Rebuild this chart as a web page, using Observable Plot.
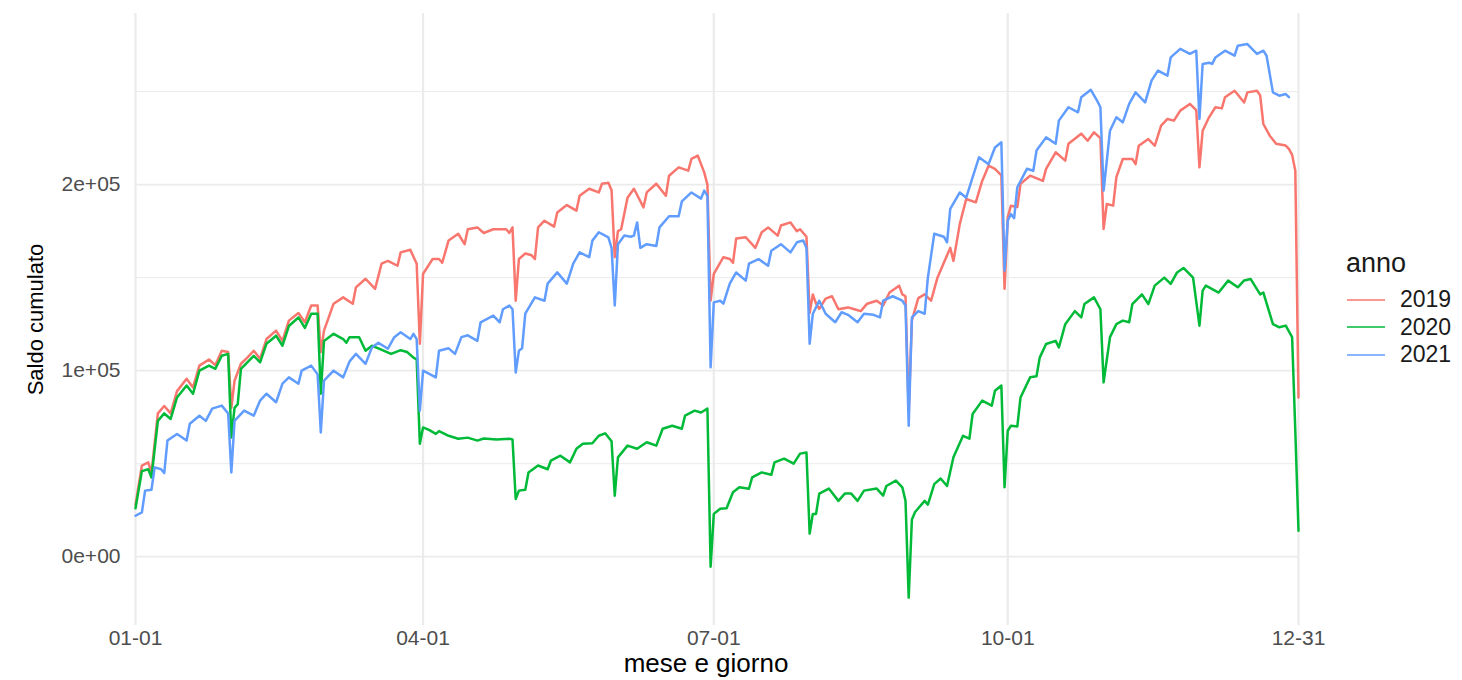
<!DOCTYPE html>
<html>
<head>
<meta charset="utf-8">
<script src="https://cdn.jsdelivr.net/npm/d3@7"></script>
<script src="https://cdn.jsdelivr.net/npm/@observablehq/plot@0.6"></script>
<style>
  html, body { margin: 0; padding: 0; background: #fff; }
  #wrap { position: relative; width: 1462px; height: 680px; overflow: hidden; font-family: "Liberation Sans", Arial, sans-serif; }
  #legend { position: absolute; left: 1346px; top: 248px; color: #1a1a1a; }
  #legend .title { font-size: 27px; height: 30px; line-height: 30px; margin-bottom: 8px; }
  #legend .row { display: flex; align-items: center; height: 27.5px; }
  #legend .row svg { margin-right: 14px; }
  #legend .row span { font-size: 23px; line-height: 27.5px; }
</style>
</head>
<body>
<div id="wrap"><div id="chart"></div><div id="legend"></div></div>
<script>
// ---- data ----
const anni = ["2019", "2020", "2021"];
const colori = ["#F8766D", "#00BA38", "#619CFF"];
const legendaTitolo = "anno";
const titoloX = "mese e giorno";
const titoloY = "Saldo cumulato";
const tickX = ["01-01", "04-01", "07-01", "10-01", "12-31"];
const tickYValori = [0, 100000, 200000];
const tickYEtichette = ["0e+00", "1e+05", "2e+05"];
const gridYMinori = [50000, 150000, 250000];

const giorni2019 = ["01-01","01-03","01-05","01-06","01-08","01-10","01-12","01-14","01-17","01-19","01-21","01-24","01-26","01-28","01-30","01-31",
"02-01","02-03","02-05","02-07","02-09","02-11","02-14","02-16","02-18","02-21","02-23","02-25","02-27","02-28",
"03-01","03-04","03-07","03-10","03-11","03-14","03-17","03-19","03-21","03-24","03-25","03-28","03-30","03-31",
"04-01","04-04","04-06","04-07","04-09","04-12","04-14","04-15","04-18","04-20","04-23","04-25","04-27","04-28","04-29","04-30",
"05-01","05-03","05-05","05-06","05-07","05-09","05-12","05-13","05-16","05-19","05-20","05-23","05-26","05-27","05-29","05-30","05-31",
"06-01","06-02","06-04","06-06","06-09","06-10","06-13","06-16","06-17","06-20","06-23","06-24","06-26","06-27","06-28","06-29","06-30",
"07-01","07-04","07-06","07-07","07-08","07-11","07-14","07-16","07-18","07-21","07-22","07-25","07-27","07-28","07-29","07-30","07-31",
"08-01","08-02","08-03","08-05","08-07","08-09","08-12","08-14","08-16","08-18","08-21","08-23","08-25","08-28","08-29","08-30","08-31",
"09-01","09-03","09-05","09-07","09-09","09-13","09-14","09-16","09-18","09-21","09-23","09-25","09-27","09-29","09-30",
"10-01","10-02","10-04","10-05","10-08","10-12","10-13","10-16","10-19","10-20","10-24","10-26","10-28","10-30","10-31",
"11-01","11-03","11-04","11-06","11-09","11-10","11-11","11-14","11-16","11-18","11-20","11-22","11-24","11-27","11-29","11-30",
"12-01","12-03","12-05","12-07","12-08","12-11","12-14","12-15","12-18","12-19","12-20","12-22","12-24","12-27","12-28","12-29","12-30","12-31"];
const saldo2019 = [28000,49000,50700,45000,77000,81000,77000,89000,95600,91000,102700,106000,103000,110700,110000,80000,
94600,103700,107000,110700,106400,117000,121500,116000,126900,131000,126000,135000,135000,110000,
121500,136000,139400,136000,144800,149400,144000,157500,159000,156400,163600,165000,157500,114500,
152000,160000,160000,158000,170000,173600,168000,176000,177000,174000,176000,176000,176000,174000,177000,137600,
160000,163000,162000,160000,177000,180600,177400,185000,189000,186000,194000,197800,195800,200500,201000,197000,161000,
175000,176000,193000,197800,187800,195800,200500,194000,204800,209300,207500,213800,215600,211000,206600,200000,137600,
152000,161000,160000,158000,171000,171700,166000,174400,177000,172600,178000,179700,175000,176000,174000,172000,131000,
141000,136000,133300,138700,140000,133000,134000,133000,132000,136000,137600,135000,142000,145700,141000,140000,78000,
127000,139000,141000,137600,150000,166000,159000,178900,192300,190500,202000,210200,208500,205000,144000,
182400,188700,188000,200400,204800,202000,208500,217400,212900,222000,227400,223600,228100,225000,176200,
189600,188700,204000,213800,213800,211000,220900,224500,220900,231700,235300,234400,239800,243400,240000,209300,
229000,236200,241600,241000,247000,250500,244200,249600,250500,248000,232600,226300,222000,221000,219200,216000,207500,85600];

const giorni2020 = ["01-01","01-03","01-05","01-06","01-08","01-10","01-12","01-14","01-17","01-19","01-21","01-24","01-26","01-28","01-30","01-31",
"02-01","02-02","02-03","02-05","02-07","02-09","02-11","02-14","02-16","02-18","02-21","02-23","02-25","02-27","02-28",
"03-01","03-04","03-07","03-08","03-09","03-12","03-14","03-16","03-18","03-22","03-25","03-27","03-29","03-30","03-31",
"04-01","04-03","04-05","04-06","04-09","04-12","04-15","04-18","04-20","04-24","04-28","04-29","04-30",
"05-01","05-03","05-04","05-07","05-10","05-11","05-14","05-17","05-19","05-21","05-24","05-26","05-28","05-30","05-31",
"06-01","06-04","06-07","06-10","06-13","06-15","06-18","06-21","06-22","06-25","06-27","06-29","06-30",
"07-01","07-03","07-05","07-07","07-09","07-12","07-13","07-16","07-19","07-20","07-23","07-26","07-28","07-30","07-31",
"08-01","08-02","08-03","08-06","08-09","08-11","08-13","08-15","08-17","08-21","08-23","08-24","08-27","08-29","08-30","08-31",
"09-01","09-02","09-03","09-05","09-06","09-08","09-10","09-12","09-14","09-17","09-19","09-20","09-23","09-26","09-27","09-29","09-30",
"10-01","10-02","10-04","10-05","10-08","10-10","10-11","10-13","10-16","10-17","10-19","10-22","10-24","10-25","10-28","10-30","10-31",
"11-02","11-04","11-06","11-08","11-09","11-12","11-14","11-16","11-19","11-21","11-23","11-25","11-28","11-30",
"12-01","12-02","12-06","12-09","12-12","12-14","12-16","12-19","12-20","12-23","12-25","12-27","12-29","12-30","12-31"];
const saldo2020 = [26000,46000,47000,42600,73000,77000,74000,85600,92000,87600,100000,102700,101000,108000,109000,64000,
80000,82000,101000,104500,108000,104500,114500,118800,113400,124000,128600,123000,130600,130600,87600,
116000,119800,117000,115000,118000,118000,110700,113400,112000,109000,111000,110000,107000,106000,60700,
69500,68000,66000,67500,65000,63400,64000,62400,63500,63000,63400,63000,31000,
35500,36000,45300,49000,47000,51600,54300,50700,58000,60700,61000,65000,66300,62000,32800,
53400,59700,58000,61500,59700,68800,70400,68800,75800,78500,77500,79600,-5400,
23000,25800,26000,34600,37300,36500,42600,45300,44000,50700,52700,50000,55400,56000,12400,
23000,23000,33900,36600,30000,33900,33900,30000,35500,36600,32800,38000,40900,37300,30000,-22000,
20000,24000,26000,30000,28000,39000,42000,38000,53400,65000,63400,76700,83900,81200,89200,92000,37300,
67700,70400,70000,85600,96400,97000,107000,114300,116000,112500,125000,132000,128600,135800,139400,133000,93700,
118000,125000,126900,126000,135800,141000,135800,145700,150000,146600,152800,155200,150000,124200,
143000,145700,142000,148400,144800,148500,149300,141000,142000,125000,123300,124200,118000,67700,14000];

const giorni2021 = ["01-01","01-03","01-04","01-06","01-07","01-09","01-10","01-11","01-14","01-17","01-18","01-21","01-23","01-25","01-28","01-30","01-31",
"02-01","02-04","02-07","02-09","02-11","02-14","02-16","02-18","02-21","02-22","02-25","02-27","02-28",
"03-01","03-04","03-07","03-09","03-11","03-14","03-16","03-18","03-21","03-23","03-25","03-28","03-29","03-30","03-31",
"04-01","04-05","04-06","04-09","04-11","04-13","04-15","04-18","04-19","04-23","04-25","04-26","04-28","04-29","04-30",
"05-01","05-02","05-03","05-06","05-09","05-10","05-13","05-16","05-18","05-20","05-23","05-24","05-26","05-29","05-30","05-31",
"06-01","06-03","06-05","06-06","06-07","06-08","06-10","06-13","06-14","06-17","06-20","06-21","06-24","06-27","06-28","06-29","06-30",
"07-01","07-03","07-04","07-06","07-08","07-11","07-12","07-15","07-18","07-19","07-22","07-25","07-27","07-29","07-30","07-31",
"08-01","08-03","08-05","08-08","08-10","08-12","08-15","08-17","08-20","08-22","08-23","08-26","08-29","08-30","08-31",
"09-01","09-03","09-05","09-06","09-08","09-11","09-12","09-13","09-16","09-18","09-20","09-22","09-25","09-27","09-29","09-30",
"10-01","10-02","10-03","10-04","10-07","10-09","10-10","10-13","10-16","10-17","10-20","10-23","10-24","10-27","10-29","10-30","10-31",
"11-02","11-04","11-06","11-08","11-10","11-13","11-15","11-17","11-20","11-21","11-24","11-27","11-29","11-30",
"12-01","12-03","12-04","12-05","12-08","12-11","12-12","12-15","12-18","12-20","12-21","12-23","12-25","12-27","12-28"];
const saldo2021 = [22000,23800,35500,36000,48000,47000,45000,62400,66000,62400,71500,75800,73000,79600,81200,77000,45300,
73000,78500,75800,83900,87600,83000,93000,96400,93000,100000,102700,98000,66800,
94600,100000,96400,105000,109000,103700,112500,115000,111800,118000,120600,117000,119800,117000,78500,
100000,96400,110700,112000,109000,118000,119000,116000,126000,129600,126000,133000,135000,133000,99000,
110700,112000,130600,139400,137600,146800,152800,146800,157500,163600,161000,169900,174400,171700,166000,135000,
168000,172600,172000,172600,179700,166000,168000,167000,177000,183000,183000,191000,195800,192500,196800,194000,101800,
136700,137600,136000,146800,152800,148400,157500,160000,156400,164500,168000,163600,169000,170000,166000,114500,
130600,137600,130600,126000,131400,130000,126000,130600,130000,128600,137600,140000,137600,135000,70400,
128600,132000,130600,150000,173600,172000,169000,187000,195800,193000,203900,214700,211000,220000,222800,153800,
180600,184200,182000,198600,208500,207500,218300,225400,222000,234400,241600,238900,247000,251000,245000,241600,196800,
229000,236200,233500,243400,249600,244200,255900,261300,258600,268400,273000,270300,272000,235300,
264900,265500,264900,268400,272000,269300,274700,275600,270300,272000,269300,249600,247800,248700,247000];

// ---- build table ----
const parse = md => d3.utcParse("%Y-%m-%d")("2021-" + md);
const serie = [
  [anni[0], giorni2019, saldo2019],
  [anni[1], giorni2020, saldo2020],
  [anni[2], giorni2021, saldo2021]
];
const rows = serie.flatMap(([anno, giorni, saldo]) =>
  giorni.map((g, i) => ({anno, date: parse(g), value: saldo[i]})));

const xTicks = tickX.map(parse);
const yLabel = new Map(tickYValori.map((v, i) => [v, tickYEtichette[i]]));
const GRID = "#EBEBEB";

const chart = Plot.plot({
  width: 1462,
  height: 680,
  marginLeft: 135,
  marginRight: 164,
  marginTop: 13,
  marginBottom: 55,
  style: {fontFamily: "'Liberation Sans', Arial, sans-serif", background: "transparent", overflow: "visible"},
  x: {type: "utc", domain: [parse(tickX[0]), parse(tickX[tickX.length - 1])]},
  y: {domain: [-37000, 292000]},
  color: {domain: anni, range: colori},
  marks: [
    Plot.gridY(gridYMinori, {stroke: GRID, strokeOpacity: 1, strokeWidth: 1}),
    Plot.gridY(tickYValori, {stroke: GRID, strokeOpacity: 1, strokeWidth: 1.7}),
    Plot.gridX(xTicks, {stroke: GRID, strokeOpacity: 1, strokeWidth: 2.2}),
    Plot.axisX(xTicks, {tickSize: 0, tickPadding: 5, tickFormat: d3.utcFormat("%m-%d"), fontSize: 21, fill: "#4d4d4d", label: null}),
    Plot.axisY(tickYValori, {tickSize: 0, tickPadding: 15, tickFormat: d => yLabel.get(d), fontSize: 21, fill: "#4d4d4d", label: null}),
    Plot.line(rows, {x: "date", y: "value", z: "anno", stroke: "anno", strokeWidth: 2.5, strokeLinejoin: "round"}),
    Plot.text([titoloX], {frameAnchor: "bottom", textAnchor: "middle", lineAnchor: "middle", dx: -11, dy: 38, fontSize: 26, fill: "#000"}),
    Plot.text([titoloY], {frameAnchor: "left", textAnchor: "middle", lineAnchor: "middle", dx: -100, rotate: -90, fontSize: 22, fill: "#000"})
  ]
});
document.getElementById("chart").appendChild(chart);

// ---- legend ----
const leg = document.getElementById("legend");
const t = document.createElement("div");
t.className = "title";
t.textContent = legendaTitolo;
leg.appendChild(t);
anni.forEach((a, i) => {
  const r = document.createElement("div");
  r.className = "row";
  r.innerHTML = `<svg width="40" height="6"><line x1="1" x2="39" y1="3" y2="3" stroke="${colori[i]}" stroke-width="1.6"/></svg><span>${a}</span>`;
  leg.appendChild(r);
});
</script>
</body>
</html>
